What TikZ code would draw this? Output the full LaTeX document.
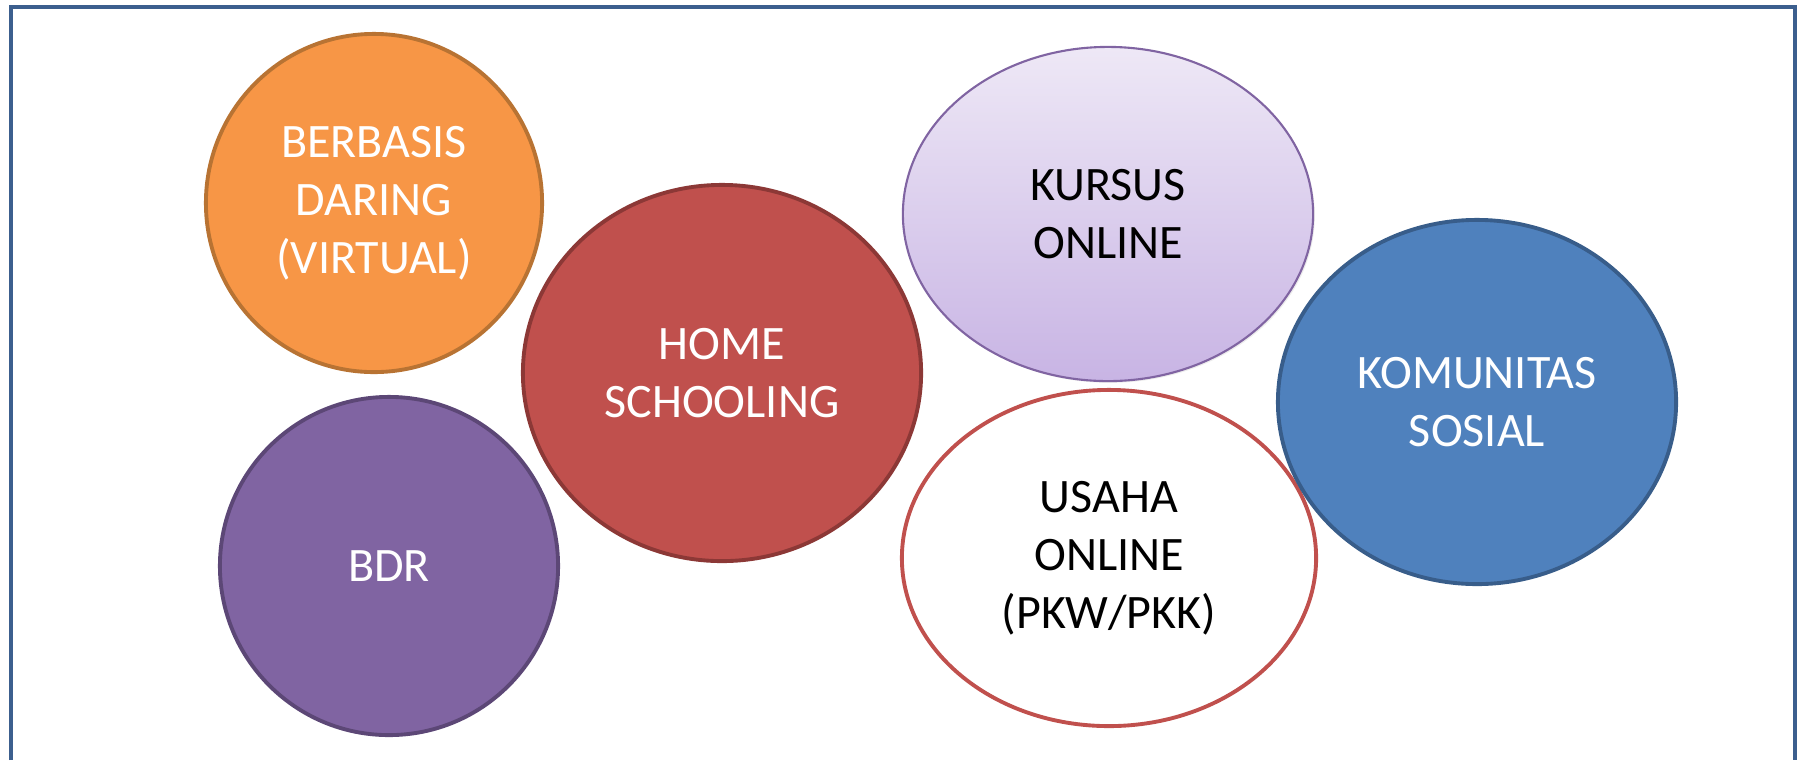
\documentclass[tikz,border=0pt]{standalone}
\usepackage{fontspec}
\setmainfont{Carlito}
\usepackage{tikz}
\usetikzlibrary{shapes.geometric,shadows}
\definecolor{frameblue}{HTML}{3C5F8E}
\definecolor{orangefill}{HTML}{F79646}
\definecolor{orangeline}{HTML}{B87333}
\definecolor{redfill}{HTML}{C0504D}
\definecolor{redline}{HTML}{8C3836}
\definecolor{purplefill}{HTML}{8064A2}
\definecolor{purpleline}{HTML}{5C4776}
\definecolor{lilactop}{HTML}{EEE8F6}
\definecolor{lilacbottom}{HTML}{C8B4E4}
\definecolor{bluefill}{HTML}{4F81BD}
\definecolor{blueline}{HTML}{385D8A}
\tikzset{bubble/.style={ellipse, inner sep=0pt, align=center, line width=1.1pt,
  font=\fontsize{13.66}{16.5}\selectfont}}

\begin{document}
\begin{tikzpicture}[x=0.01cm, y=-0.01cm]
\useasboundingbox (0,0) rectangle (1800,760);

% frame, open at the bottom
\coordinate (fbl) at (11,760);
\coordinate (ftl) at (11,7);
\coordinate (ftr) at (1795,7);
\coordinate (fbr) at (1795,760);
\draw[frameblue, line width=1.3pt] (fbl) -- (ftl) -- (ftr) -- (fbr);

% left column
\node (daring) [bubble, draw=orangeline, fill=orangefill, text=white,
  minimum width=3.36cm, minimum height=3.38cm] at (374,203) {BERBASIS\\DARING\\(VIRTUAL)};
\node (bdr) [bubble, draw=purpleline, fill=purplefill, text=white,
  minimum width=3.38cm, minimum height=3.38cm] at (389,566) {BDR};

% middle
\node (home) [bubble, draw=redline, fill=redfill, text=white,
  minimum width=3.98cm, minimum height=3.76cm] at (722,373) {HOME\\SCHOOLING};

% right column
\node (kursus) [bubble, draw=purplefill, line width=0.6pt, top color=lilactop, bottom color=lilacbottom,
  drop shadow={opacity=0.15, shadow xshift=0.5pt, shadow yshift=-0.5pt},
  minimum width=4.10cm, minimum height=3.34cm] at (1108,214) {KURSUS\\ONLINE};
\node (usaha) [bubble, draw=redfill, fill=white,
  minimum width=4.14cm, minimum height=3.36cm] at (1109,558) {USAHA\\ONLINE\\(PKW/PKK)};
\node (komunitas) [bubble, draw=blueline, fill=bluefill, text=white,
  minimum width=3.98cm, minimum height=3.64cm] at (1477,402) {KOMUNITAS\\SOSIAL};
\end{tikzpicture}
\end{document}
